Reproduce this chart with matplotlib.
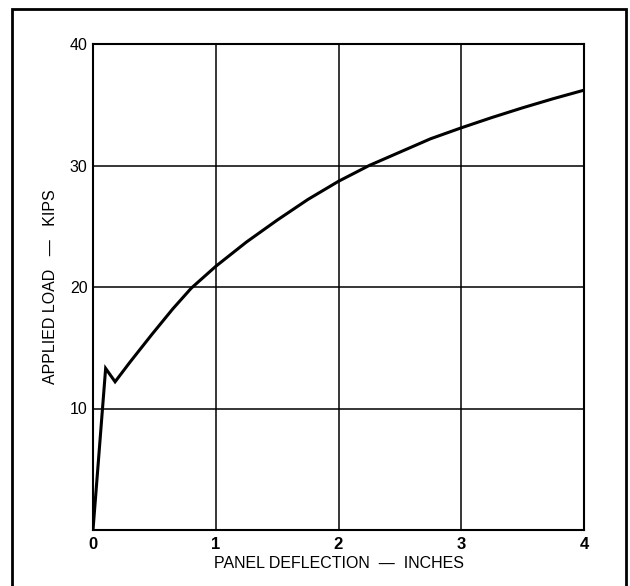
import matplotlib
matplotlib.use("Agg")
import matplotlib.pyplot as plt
from matplotlib.patches import Rectangle

deflection = [0.0, 0.103, 0.18, 0.30, 0.48, 0.65, 0.80, 1.0, 1.25, 1.5, 1.75,
              2.0, 2.25, 2.5, 2.75, 3.0, 3.25, 3.5, 3.75, 4.0]
load = [0.0, 13.3, 12.2, 13.8, 16.1, 18.2, 19.9, 21.7, 23.7, 25.5, 27.2,
        28.7, 30.0, 31.1, 32.2, 33.1, 33.95, 34.75, 35.5, 36.2]
x_ticks = [0, 1, 2, 3, 4]
y_ticks = [10, 20, 30, 40]

plt.rcParams['font.family'] = ['Liberation Sans', 'DejaVu Sans']

fig = plt.figure(figsize=(6.3, 5.86), dpi=100)
ax = fig.add_axes([93/630, 56/586, (584-93)/630, (530-44)/586])

ax.plot(deflection, load, color='black', lw=2.2, solid_joinstyle='miter', zorder=3)
ax.set_xlim(0, 4)
ax.set_ylim(0, 40)
ax.set_xticks(x_ticks)
ax.set_yticks(y_ticks)
ax.set_xticklabels([str(t) for t in x_ticks], fontsize=12, fontweight='bold')
ax.set_yticklabels([str(t) for t in y_ticks], fontsize=11.5)
ax.tick_params(length=0)
ax.tick_params(axis='y', pad=4)
ax.tick_params(axis='x', pad=5)
ax.grid(True, color='black', lw=1.1)
for s in ax.spines.values():
    s.set_linewidth(1.5)
ax.set_xlabel('PANEL DEFLECTION  \u2014  INCHES', fontsize=11.5, labelpad=3)
ax.set_ylabel('APPLIED LOAD   \u2014   KIPS', fontsize=11.5, labelpad=8)

fig.patches.append(Rectangle((12/630, -0.05), (626-12)/630, 1.05 - 9/586,
                             transform=fig.transFigure, fill=False,
                             edgecolor='black', lw=2.0))

fig.savefig('out.png', dpi=100)
